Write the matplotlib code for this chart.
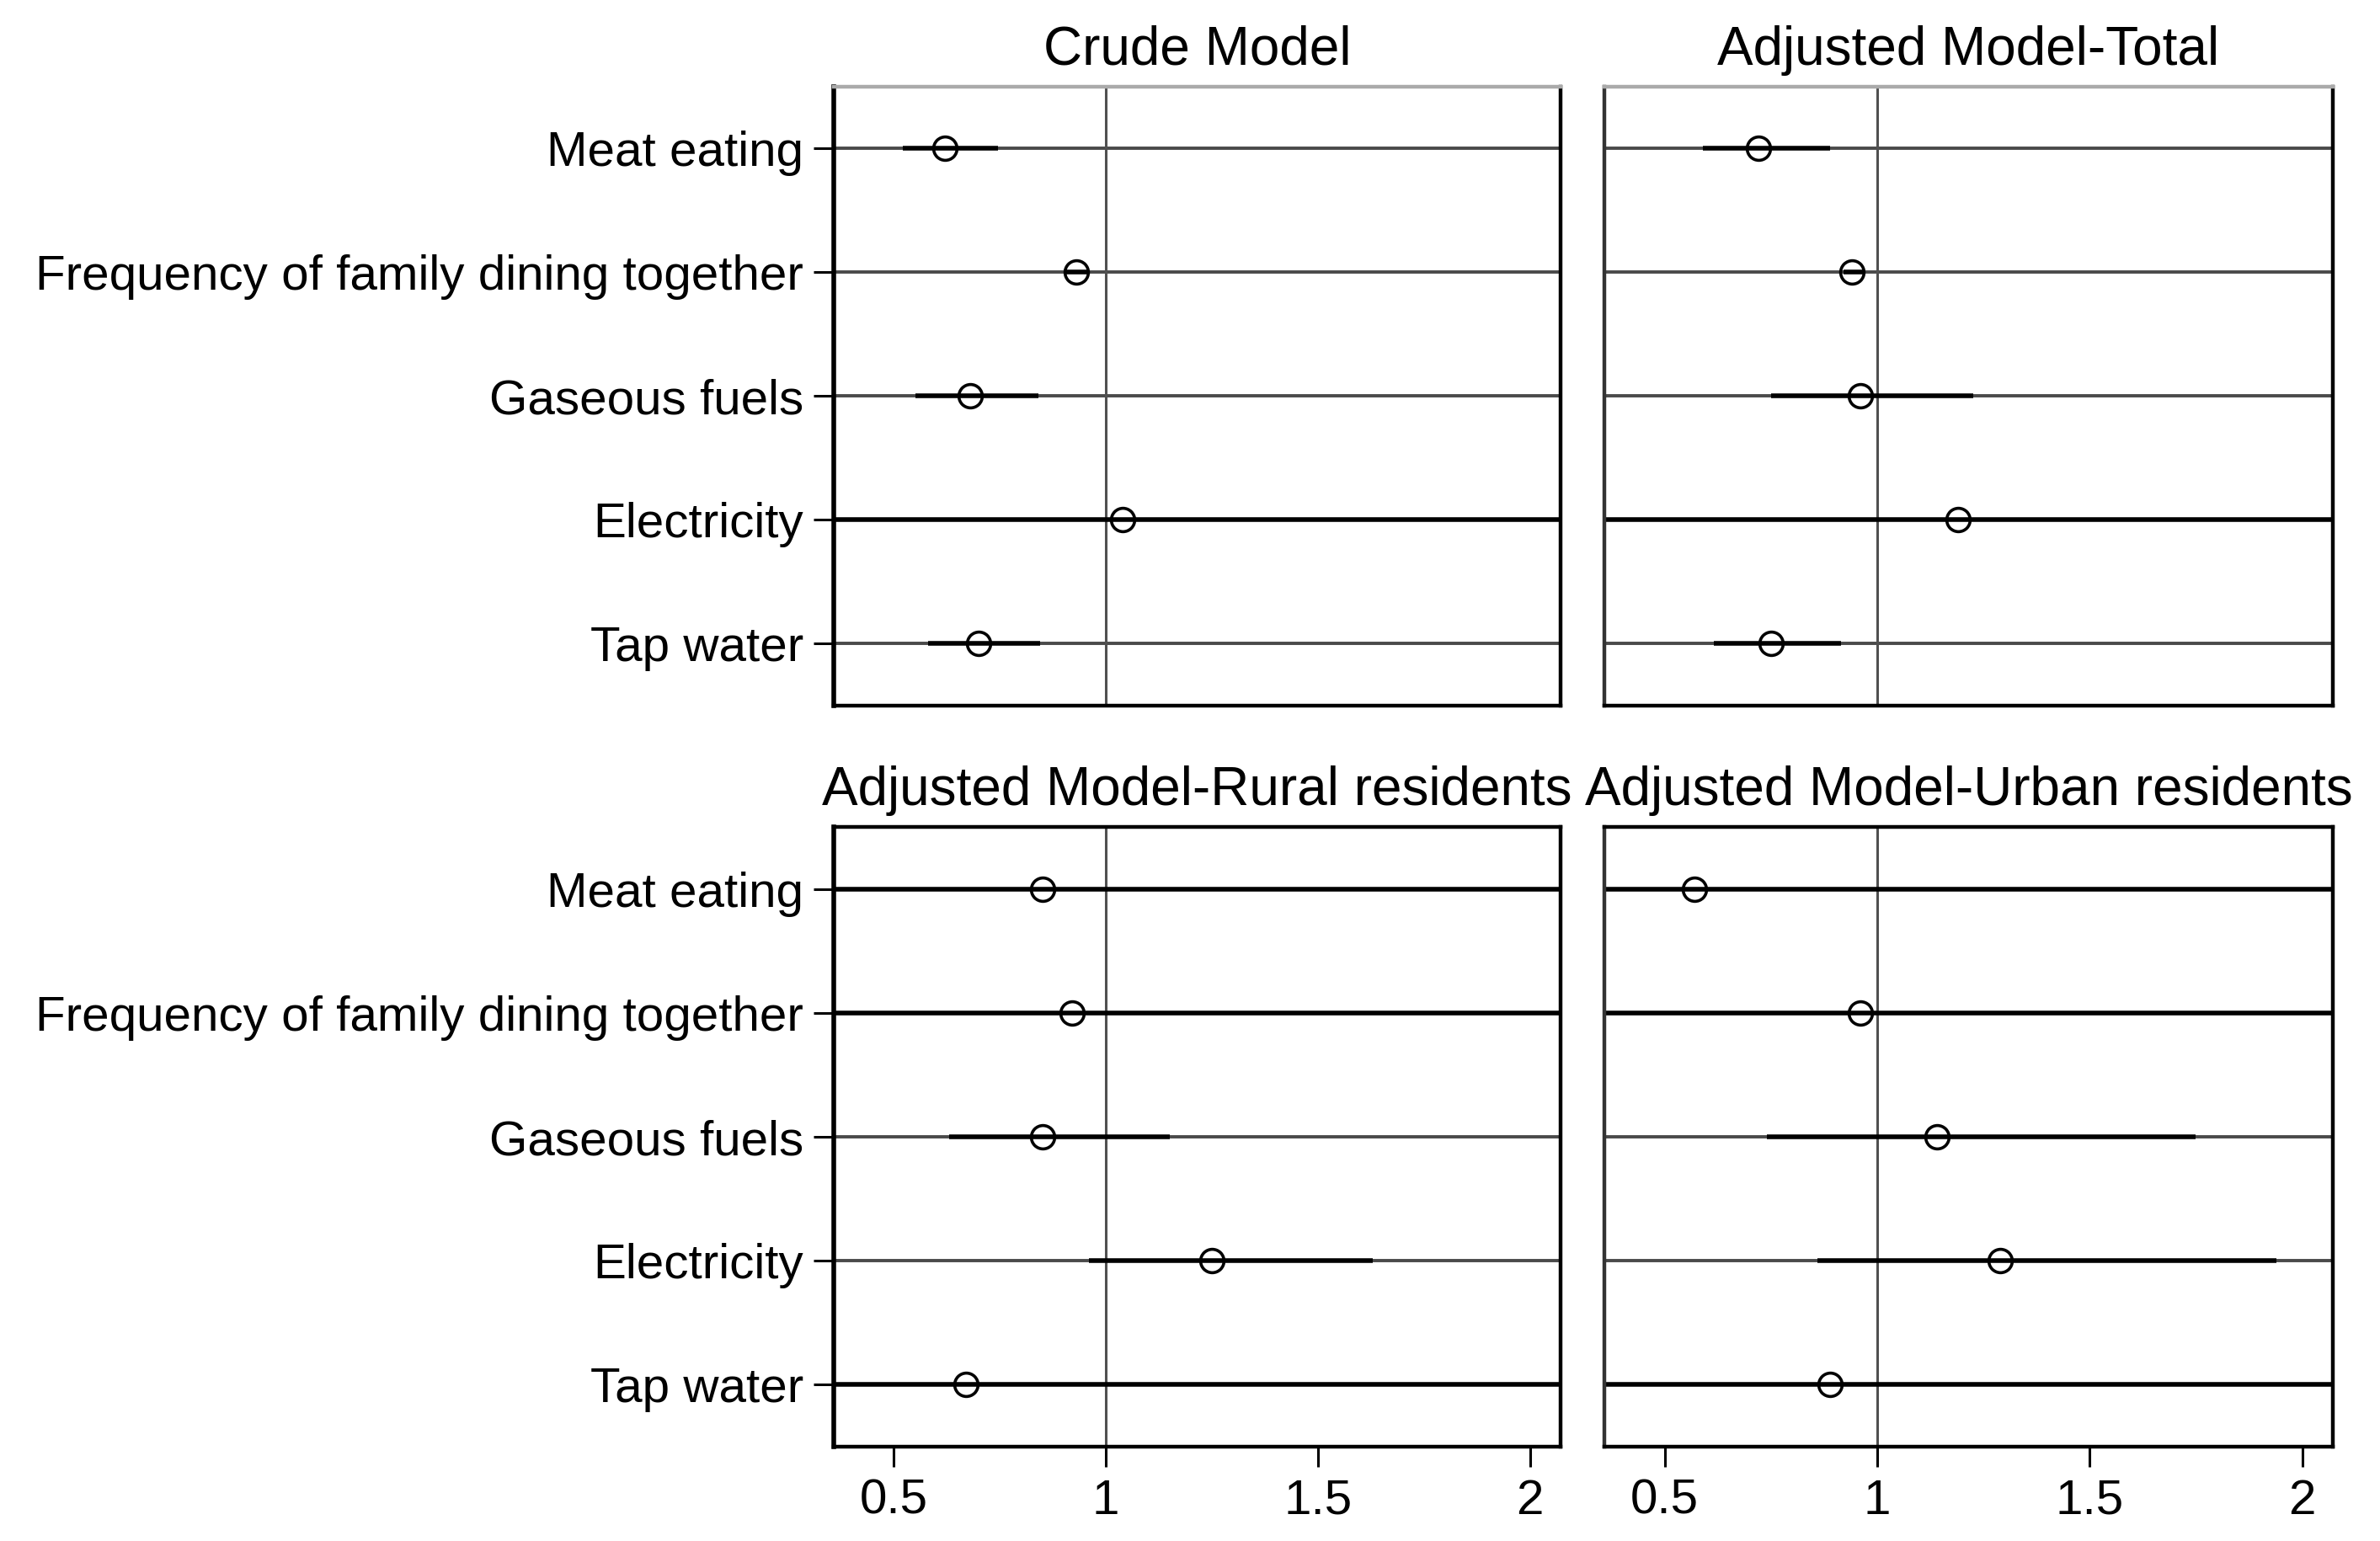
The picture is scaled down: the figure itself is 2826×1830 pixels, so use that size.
import matplotlib.pyplot as plt

plt.rcParams['font.family'] = ['Liberation Sans', 'DejaVu Sans']

factors = ["Meat eating", "Frequency of family dining together", "Gaseous fuels",
           "Electricity", "Tap water"]
panel_titles = ["Crude Model", "Adjusted Model-Total",
                "Adjusted Model-Rural residents", "Adjusted Model-Urban residents"]

# odds ratios and 95% CI per panel (CIs that run past the axis are drawn across it)
crude_or = [0.62, 0.93, 0.68, 1.04, 0.70]
crude_lo = [0.52, 0.90, 0.55, 0.20, 0.58]
crude_hi = [0.745, 0.96, 0.84, 3.60, 0.845]

total_or = [0.72, 0.94, 0.96, 1.19, 0.75]
total_lo = [0.59, 0.92, 0.75, 0.20, 0.615]
total_hi = [0.89, 0.97, 1.225, 3.60, 0.915]

rural_or = [0.85, 0.92, 0.85, 1.25, 0.67]
rural_lo = [0.20, 0.20, 0.63, 0.96, 0.20]
rural_hi = [3.60, 3.60, 1.15, 1.63, 3.60]

urban_or = [0.57, 0.96, 1.14, 1.29, 0.89]
urban_lo = [0.20, 0.20, 0.74, 0.86, 0.20]
urban_hi = [3.60, 3.60, 1.75, 1.94, 3.60]

panels = [(crude_or, crude_lo, crude_hi), (total_or, total_lo, total_hi),
          (rural_or, rural_lo, rural_hi), (urban_or, urban_lo, urban_hi)]

W, H = 2826, 1830
fig = plt.figure(figsize=(W / 100, H / 100), dpi=100)

lefts = [990, 1905]
widths = [863, 865]
tops = [103, 982]
heights = [735, 736]

ypos = [5, 4, 3, 2, 1]

for k, (est, lo, hi) in enumerate(panels):
    r, c = divmod(k, 2)
    ax = fig.add_axes([lefts[c] / W, 1 - (tops[r] + heights[r]) / H,
                       widths[c] / W, heights[r] / H])
    ax.set_xlim(0.358, 2.072)
    ax.set_ylim(0.5, 5.5)

    for y in ypos:
        ax.axhline(y, color='#4a4a4a', lw=2.8, zorder=1)
    ax.axvline(1, color='#505050', lw=2.2, zorder=1)
    ax.hlines(ypos, lo, hi, color='black', lw=4.0, zorder=2)
    ax.plot(est, ypos, 'o', ms=20, mfc='none', mec='black', mew=2.6, zorder=3)

    ax.set_title(panel_titles[k], fontsize=46, pad=19)

    for s in ax.spines.values():
        s.set_linewidth(3.2)
        s.set_color('black')
    if c == 0:
        ax.spines['left'].set_linewidth(4.0)
    else:
        ax.spines['left'].set_color('#333333')
    if r == 0:
        ax.spines['top'].set_color('#aaaaaa')

    ax.set_yticks(ypos)
    if c == 0:
        ax.set_yticklabels(factors, fontsize=42)
        ax.tick_params(axis='y', length=17, width=2.2, pad=9)
    else:
        ax.set_yticklabels([])
        ax.tick_params(axis='y', length=0)

    ax.set_xticks([0.5, 1, 1.5, 2])
    if r == 1:
        ax.set_xticklabels(['0.5', '1', '1.5', '2'], fontsize=42)
        ax.tick_params(axis='x', length=17, width=2.2, pad=10)
    else:
        ax.set_xticklabels([])
        ax.tick_params(axis='x', length=0)

fig.savefig('out.png', dpi=100)
